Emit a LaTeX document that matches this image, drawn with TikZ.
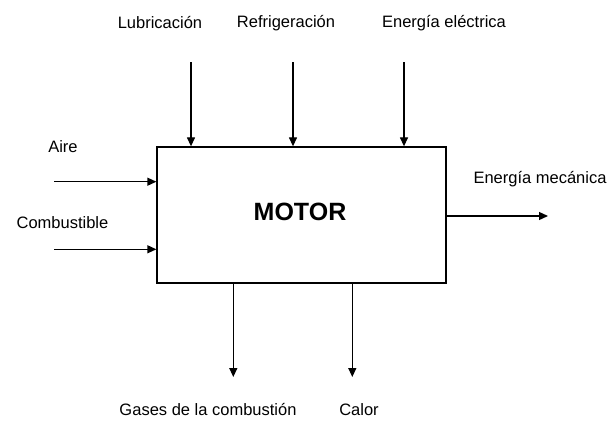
\documentclass[tikz,border=0pt]{standalone}
\usepackage{fontspec}
\setmainfont{Liberation Sans}
\usetikzlibrary{arrows.meta}
\begin{document}
\begin{tikzpicture}[x=1pt,y=1pt,
  lbl/.style={inner sep=0pt,font=\fontsize{16.5}{19}\selectfont},
  flow/.style={line width=1.3pt,-{Triangle[width=8pt,length=9pt]}},
  boxstyle/.style={draw,line width=1.3pt,minimum width=289pt,minimum height=136pt,inner sep=0pt}]
\useasboundingbox (0,0) rectangle (613,421);
\node[boxstyle] (motor) at (301.5,206) {};
\node[inner sep=0pt,font=\fontsize{25}{30}\selectfont\bfseries] (mtxt) at (300,209) {MOTOR};
% labels
\node[lbl] (lub) at (160,398) {Lubricación};
\node[lbl] (ref) at (286,398) {Refrigeración};
\node[lbl] (ene) at (444,398) {Energía eléctrica};
\node[lbl] (aire) at (63,274) {Aire};
\node[lbl] (comb) at (62.5,198) {Combustible};
\node[lbl] (mec) at (540,242) {Energía mecánica};
\node[lbl] (gas) at (208,11) {Gases de la combustión};
\node[lbl] (cal) at (359,11) {Calor};
% coordinates
\coordinate (t1) at (191,358.5);
\coordinate (t2) at (293,358.5);
\coordinate (t3) at (404,358.5);
\coordinate (l1) at (54,239.3);
\coordinate (l2) at (54,171.7);
\coordinate (r1) at (548,205);
\coordinate (b1) at (233.3,44);
\coordinate (b2) at (352.3,44);
% arrows
\draw[flow] (t1) -- (t1 |- motor.north);
\draw[flow] (t2) -- (t2 |- motor.north);
\draw[flow] (t3) -- (t3 |- motor.north);
\draw[flow] (l1) -- (l1 -| motor.west);
\draw[flow] (l2) -- (l2 -| motor.west);
\draw[flow] (r1 -| motor.east) -- (r1);
\draw[flow] (b1 |- motor.south) -- (b1);
\draw[flow] (b2 |- motor.south) -- (b2);
\end{tikzpicture}
\end{document}
